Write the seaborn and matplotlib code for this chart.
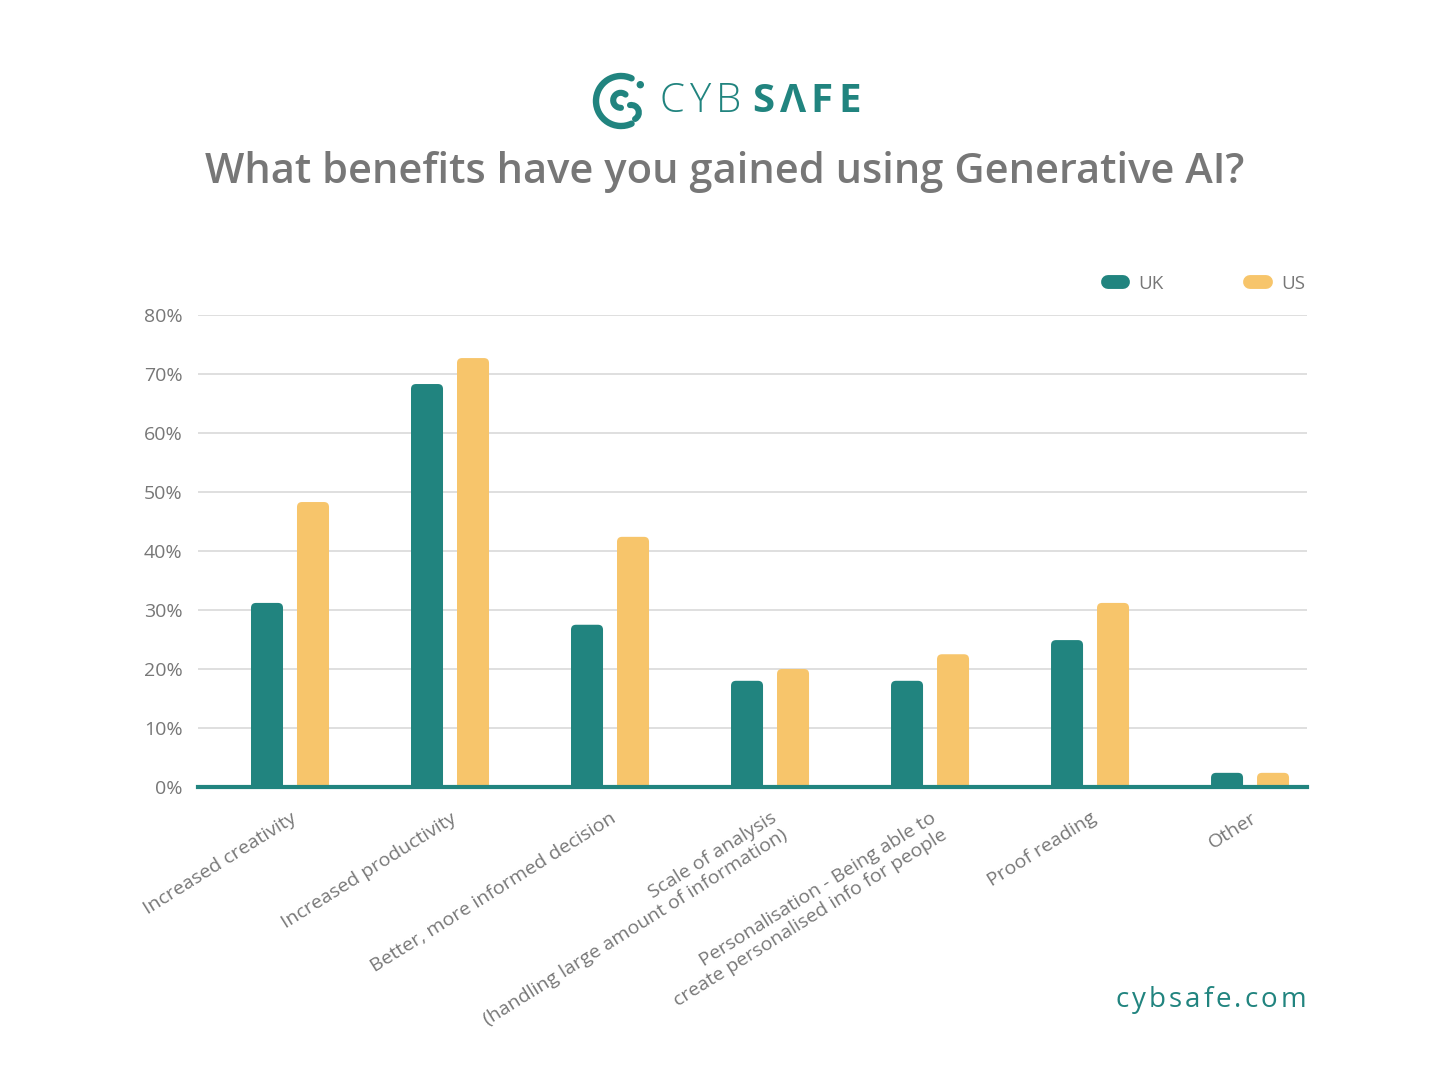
import matplotlib
matplotlib.use("Agg")
import matplotlib.pyplot as plt
import seaborn as sns
import pandas as pd
from matplotlib.patches import FancyBboxPatch, Arc, Circle
from matplotlib.lines import Line2D

categories = [
    "Increased creativity",
    "Increased productivity",
    "Better, more informed decision",
    "Scale of analysis\n(handling large amount of information)",
    "Personalisation - Being able to\ncreate personalised info for people",
    "Proof reading",
    "Other",
]
uk_values = [31.2, 68.3, 27.5, 18.0, 18.0, 24.9, 2.4]
us_values = [48.3, 72.7, 42.4, 20.0, 22.5, 31.2, 2.4]
series = ["UK", "US"]
y_ticks = [0, 10, 20, 30, 40, 50, 60, 70, 80]
y_tick_labels = [f"{v}%" for v in y_ticks]

TEAL = "#21847F"
YELLOW = "#F7C56B"
GRAY = "#777777"
FAM = ["Open Sans", "DejaVu Sans"]

df = pd.DataFrame({
    "category": categories * 2,
    "series": ["UK"] * len(categories) + ["US"] * len(categories),
    "value": uk_values + us_values,
})

sns.set_theme(style="white")
plt.rcParams["font.family"] = FAM

W, H = 1450, 1065
fig = plt.figure(figsize=(W / 100, H / 100), dpi=100)
ax = fig.add_axes([198 / W, 278 / H, (1307 - 198) / W, (787 - 315) / H])

sns.barplot(data=df, x="category", y="value", hue="series", order=categories,
            hue_order=series, palette=[TEAL, YELLOW], width=0.575, gap=0.304,
            saturation=1, legend=False, ax=ax, zorder=3)

ax.set_xlim(-0.575, 6.356)
ax.set_ylim(0, 80)

# round the bar tops
px_x = 1 / 160.0
px_y = 80 / 472.0
aspect = px_y / px_x
r = 5 * px_x
for p in list(ax.patches):
    x, y = p.get_x(), p.get_y()
    w, h = p.get_width(), p.get_height()
    fc = p.get_facecolor()
    p.remove()
    ext = 6 * px_y
    fb = FancyBboxPatch((x, y - ext), w, h + ext,
                        boxstyle=f"round,pad=0,rounding_size={r}",
                        mutation_aspect=aspect, facecolor=fc, edgecolor="none",
                        zorder=3)
    ax.add_patch(fb)

ax.set_yticks(y_ticks)
ax.set_yticklabels(y_tick_labels)
ax.yaxis.grid(True, color="#D9D9D9", linewidth=1.2, zorder=0)
ax.xaxis.grid(False)
for s in ["top", "right", "left"]:
    ax.spines[s].set_visible(False)
ax.spines["bottom"].set_color(TEAL)
ax.spines["bottom"].set_linewidth(3)
ax.spines["bottom"].set_zorder(5)
ax.tick_params(axis="y", length=0, pad=11, labelsize=14, labelcolor=GRAY)
ax.tick_params(axis="x", length=0, pad=16, labelsize=14, labelcolor=GRAY)
ax.set_xlabel("")
ax.set_ylabel("")
ax.set_xticks(range(len(categories)))
ax.set_xticklabels(categories, rotation=32, ha="right", rotation_mode="anchor",
                   multialignment="right", linespacing=1.15)

# legend
handles = [Line2D([0], [0], color=TEAL, lw=10, solid_capstyle="round"),
           Line2D([0], [0], color=YELLOW, lw=10, solid_capstyle="round")]
leg = fig.legend(handles, series, loc="center right",
                 bbox_to_anchor=(1318 / W, 1 - 284 / H), ncol=2, frameon=False,
                 handlelength=0.85, columnspacing=4.6, handletextpad=0.8,
                 fontsize=13.5, borderpad=0.2)
for t in leg.get_texts():
    t.set_color(GRAY)

# overlay for logo
ov = fig.add_axes([0, 0, 1, 1], zorder=-1)
ov.set_xlim(0, W)
ov.set_ylim(0, H)
ov.axis("off")


def Y(v):
    return H - v


ov.add_patch(Arc((621, Y(101)), 50, 50, theta1=65, theta2=295, color=TEAL,
                 lw=4.6, capstyle="round"))
ov.add_patch(Arc((620.7, Y(100.3)), 15, 15, theta1=50, theta2=272, color=TEAL,
                 lw=4.4, capstyle="round"))
ov.add_patch(Arc((631.3, Y(112.5)), 15, 15, theta1=-60, theta2=100, color=TEAL,
                 lw=4.4, capstyle="round"))
ov.add_patch(Circle((640.3, Y(84.7)), 3.0, color=TEAL))

fig.canvas.draw()
renderer = fig.canvas.get_renderer()


def spaced_text(x_px, y_px, s, spacing_px, **kw):
    """Place characters one after another with extra letter spacing (pixels)."""
    x = x_px
    for ch in s:
        t = fig.text(x / W, 1 - y_px / H, ch, ha="left", va="center", **kw)
        bb = t.get_window_extent(renderer=renderer)
        x = x + bb.width + spacing_px
    return x


end = spaced_text(660, 102, "CYB", 5, fontsize=29, color=TEAL,
                  fontweight="light", family=FAM)
spaced_text(end + 6, 102, "SΛFE", 5, fontsize=29, color=TEAL,
            fontweight="bold", family=FAM)

fig.text(0.5, 1 - 172 / H, "What benefits have you gained using Generative AI?",
         fontsize=30, color=GRAY, ha="center", va="center", fontweight="semibold",
         family=FAM)

# right-aligned letter-spaced footer
footer = "cybsafe.com"
spacing = 3
widths = []
for ch in footer:
    t = fig.text(0, 0, ch, fontsize=20, family=FAM)
    widths.append(t.get_window_extent(renderer=renderer).width)
    t.remove()
total = sum(widths) + spacing * (len(footer) - 1)
spaced_text(1306 - total, 1000, footer, spacing, fontsize=20, color=TEAL,
            family=FAM)

fig.savefig("out.png", dpi=100, facecolor="white")
